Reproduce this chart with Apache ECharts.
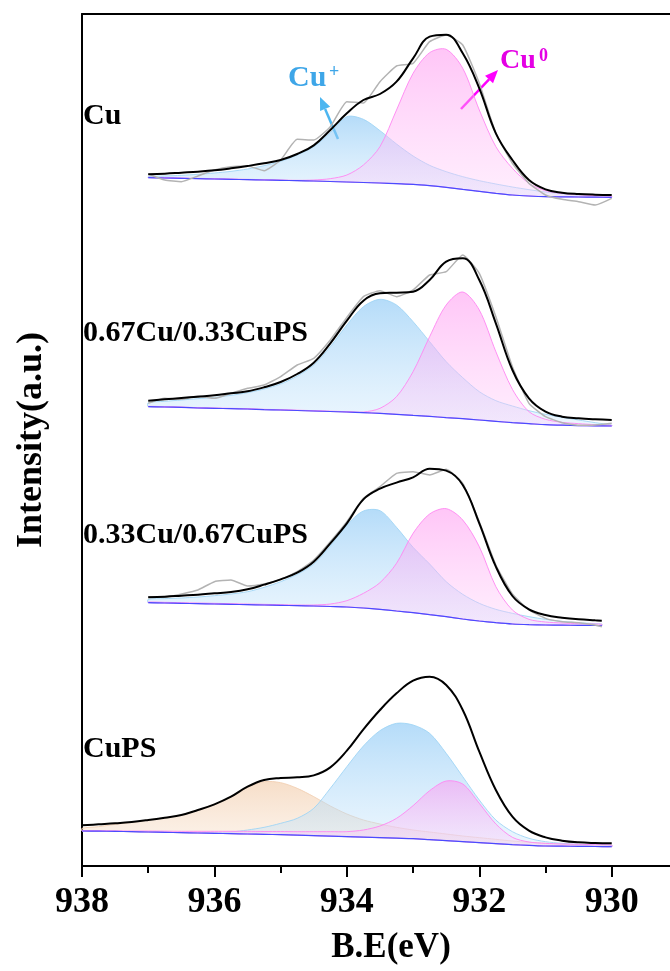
<!DOCTYPE html>
<html><head><meta charset="utf-8">
<script src="https://cdn.jsdelivr.net/npm/echarts@6/dist/echarts.min.js"></script>
<style>html,body{margin:0;padding:0;background:#fff}#c{width:670px;height:971px}</style>
</head><body><div id="c"></div>
<script>
// ---------- data (binding energy in eV, intensity in a.u.) ----------
const TICKS_MAJOR = [938, 936, 934, 932, 930];
const TICKS_MINOR = [937, 935, 933, 931];
const OFFSETS = {cu: 1948, s67: 1258, s33: 628, ps: 28};

// Cu
const E_CU = [937,936.75,936.5,936.25,936,935.75,935.5,935.25,935,934.75,934.5,934.25,934,933.75,933.5,933.25,933,932.75,932.5,932.25,932,931.75,931.5,931.25,931,930.75,930.5,930.25,930];
const CU_ENV = [127,129,132,135,139,145,152,160,170,188,214,260,310,350,368,405,475,540,546,490,385,250,170,110,82,72,68,66,65];
const CU_BG  = [117,116,115,114,113,112,111,110,109,108,107,105.5,104,102.5,101,99,97,93,88,82,76,70,65,62,60,59.5,59,58.5,58];
const CU_P   = [120,122,124,127,131,136,143,153,166,185,210,252,300,292,258,218,182,154,135,120,108,98,89,81,74,69,65,62,60];
const CU_0   = [118,117,116,115,114,113,112,111,110,109,110,114,125,155,210,320,430,492,502,445,320,210,145,100,78,70,66,63,61];
const CU_RAW = [128,110,105,122,140,150,152,138,170,232,230,270,345,341,405,452,460,525,545,515,400,250,160,100,65,52,45,35,55];

// 0.67Cu/0.33CuPS
const E_67 = [937,936.75,936.5,936.25,936,935.75,935.5,935.25,935,934.75,934.5,934.25,934,933.75,933.5,933.25,933,932.75,932.5,932.25,932,931.75,931.5,931.25,931,930.75,930.5,930.25,930];
const S67_ENV = [138,142,146,150,154,160,166,178,194,218,252,310,378,438,460,462,465,500,555,565,500,370,230,145,105,90,85,82,80];
const S67_BG  = [120,119,118,116,115,114,113,111,110,108.5,107,105.5,104,102,100,97,94,91,87,84,80,76,72,69,66,64.5,63,62.5,62];
const S67_P   = [132,136,140,144,148,154,162,173,188,212,245,300,365,420,442,425,375,315,255,207,165,138,122,108,97,88,80,72,65];
const S67_0   = [121,120,119,117,116,115,114,112,111,109.5,108,106.5,105,104,115,150,225,330,425,464,410,285,172,105,82,73,69,66,64];
const S67_RAW = [130,145,142,152,145,160,175,185,210,245,265,320,388,450,468,450,470,515,525,575,520,390,240,130,90,72,64,65,70];

// 0.33Cu/0.67CuPS
const E_33 = [937,936.75,936.5,936.25,936,935.75,935.5,935.25,935,934.75,934.5,934.25,934,933.75,933.5,933.25,933,932.75,932.5,932.25,932,931.75,931.5,931.25,931,930.75,930.5,930.25,930.15];
const S33_ENV = [178,180,183,186,190,194,202,216,232,252,285,340,400,472,504,522,538,564,558,515,400,270,182,142,125,117,112,109,108];
const S33_BG  = [162,161,160,159,158,157,156,155,154,153,152,150.5,149,146,142,137,132,126,120,113,107,102,98,96,95,94.5,94,93.5,93];
const S33_P   = [172,174,176,179,183,188,195,208,225,247,278,332,395,437,438,388,328,278,225,187,160,142,130,120,112,106,102,99,98];
const S33_0   = [164,163,162,161,160,159,158,157,156,155,155,158,168,190,222,280,370,428,444,410,330,210,140,112,104,101,99,98,97];
const S33_RAW = [180,178,188,200,225,230,212,218,232,255,290,345,405,475,510,550,555,545,562,520,405,275,188,140,115,105,102,95,90];

// CuPS
const E_PS = [938,937.75,937.5,937.25,937,936.75,936.5,936.25,936,935.75,935.5,935.25,935,934.75,934.5,934.25,934,933.75,933.5,933.25,933,932.75,932.5,932.25,932,931.75,931.5,931.25,931,930.75,930.5,930.25,930];
const PS_ENV = [94,97,100,104,110,117,125,140,157,180,210,230,236,238,244,268,318,382,440,490,528,540,515,440,315,200,120,78,58,48,43,41,40];
const PS_BG  = [77,76.5,76,75,74,73,72,71,70,69,68,67,66,64.5,63,61.5,60,58.5,57,55.5,54,51,48,45,42,39,36,34,32,31.5,31,30.5,30];
const PS_SAT = [85,90,97,103,110,117,125,140,157,180,208,225,222,205,180,152,128,110,98,88,80,74,68,62,57,52,47,43,40,38,36,35,34];
const PS_P   = [78,77,76,75.5,75,74,73,72.5,72,74,80,88,100,115,145,205,270,332,378,400,395,370,310,240,170,110,75,55,45,40,37,36,35];
const PS_0   = [78,78,77.5,77,77,76.5,76,76,76,76,76,75.5,75.5,75,75,75,75,80,92,115,153,198,227,218,160,98,58,44,40,38,37,36,35];

// ---------- styles ----------
const FONT = '"Liberation Serif","Times New Roman",serif';
const BLUE = {line:'#9fd5f5', top:'rgba(135,198,245,0.62)', bot:'rgba(200,230,252,0.35)'};
const PINK = {line:'#ff86f2', top:'rgba(255,150,240,0.55)', bot:'rgba(255,205,250,0.35)'};
const ORNG = {line:'#f2cfb2', top:'rgba(240,198,160,0.58)', bot:'rgba(248,226,206,0.40)'};

const pairs = (xs, ys, off) => xs.map((x, i) => [x, ys[i] + off]);

const series = [];
function bandSeries(xs, comp, bg, off, st, z) {
  const rows = xs.map((x, i) => [x, comp[i] + off, bg[i] + off]);
  return {
    type:'custom', data:rows, encode:{x:0, y:[1, 2]}, z:z, silent:true,
    renderItem: function (params, api) {
      if (params.dataIndex !== 0) return null;
      const top = rows.map(r => api.coord([r[0], r[1]]));
      const bot = rows.map(r => api.coord([r[0], r[2]])).reverse();
      return {type:'polygon', shape:{points:top.concat(bot), smooth:0.3},
        style:{fill:{type:'linear', x:0, y:0, x2:0, y2:1,
          colorStops:[{offset:0, color:st.top}, {offset:1, color:st.bot}]},
          stroke:st.line, lineWidth:0.9}};
    }
  };
}
function addSpectrum(xs, off, bg, comps, env, raw) {
  comps.forEach((c, j) => series.push(bandSeries(xs, c.v, bg, off, c.s, 1 + j * 0.1)));
  series.push({type:'line', data:pairs(xs, bg, off), symbol:'none', smooth:0.3,
    lineStyle:{color:'#4b4bff', width:1.2}, z:3});
  if (raw) series.push({type:'line', data:pairs(xs, raw, off), symbol:'none', smooth:0.15,
    lineStyle:{color:'#b3b3b3', width:1.5}, z:4});
  series.push({type:'line', data:pairs(xs, env, off), symbol:'none', smooth:0.4,
    lineStyle:{color:'#000', width:2}, z:5});
}
addSpectrum(E_CU, OFFSETS.cu, CU_BG, [{v:CU_P, s:BLUE}, {v:CU_0, s:PINK}], CU_ENV, CU_RAW);
addSpectrum(E_67, OFFSETS.s67, S67_BG, [{v:S67_P, s:BLUE}, {v:S67_0, s:PINK}], S67_ENV, S67_RAW);
addSpectrum(E_33, OFFSETS.s33, S33_BG, [{v:S33_P, s:BLUE}, {v:S33_0, s:PINK}], S33_ENV, S33_RAW);
addSpectrum(E_PS, OFFSETS.ps, PS_BG, [{v:PS_SAT, s:ORNG}, {v:PS_P, s:BLUE}, {v:PS_0, s:PINK}], PS_ENV, null);

function arrow(x1, y1, x2, y2, color) {
  const a = Math.atan2(y2 - y1, x2 - x1), L = 13, W = 5.5;
  const bx = x2 - L * Math.cos(a), by = y2 - L * Math.sin(a);
  const px = -Math.sin(a) * W, py = Math.cos(a) * W;
  return {type:'group', children:[
    {type:'line', shape:{x1:x1, y1:y1, x2:bx, y2:by}, style:{stroke:color, lineWidth:2.5}},
    {type:'polygon', shape:{points:[[x2, y2], [bx + px, by + py], [bx - px, by - py]]}, style:{fill:color}}
  ]};
}
const label = (t, x, y, size, color) => ({type:'text', x:x, y:y, z:10,
  style:{text:t, font:'bold ' + size + 'px ' + FONT, fill:color || '#000', verticalAlign:'middle', align:'left'}});

const X_MIN = 929.12, X_MAX = 938;
const chart = echarts.init(document.getElementById('c'), null, {renderer:'canvas'});
chart.setOption({
  animation:false,
  backgroundColor:'#fff',
  grid:{left:82, top:14, right:0, bottom:105, containLabel:false},
  xAxis:[
    {type:'value', min:X_MIN, max:X_MAX, inverse:true, position:'bottom',
     name:'B.E(eV)', nameLocation:'middle', nameGap:64,
     nameTextStyle:{fontSize:35, fontWeight:'bold', fontFamily:FONT, color:'#000', padding:[0,0,0,30]},
     axisLine:{show:true, lineStyle:{color:'#000', width:2}},
     axisTick:{show:true, inside:false, length:11, lineStyle:{color:'#000', width:2}, customValues:TICKS_MAJOR},
     axisLabel:{show:true, margin:19, fontSize:36, fontWeight:'bold', fontFamily:FONT, color:'#000', customValues:TICKS_MAJOR},
     splitLine:{show:false}},
    {type:'value', min:X_MIN, max:X_MAX, inverse:true, position:'bottom',
     axisLine:{show:false},
     axisTick:{show:true, inside:false, length:7, lineStyle:{color:'#000', width:2}, customValues:TICKS_MINOR},
     axisLabel:{show:false}, splitLine:{show:false}},
    {type:'value', min:X_MIN, max:X_MAX, inverse:true, position:'top',
     axisLine:{show:true, lineStyle:{color:'#000', width:2}},
     axisTick:{show:false}, axisLabel:{show:false}, splitLine:{show:false}}
  ],
  yAxis:{type:'value', min:0, max:2556,
    name:'Intensity(a.u.)', nameLocation:'middle', nameGap:32,
    nameTextStyle:{fontSize:36, fontWeight:'bold', fontFamily:FONT, color:'#000'},
    axisLine:{show:true, lineStyle:{color:'#000', width:2}},
    axisTick:{show:false}, axisLabel:{show:false}, splitLine:{show:false}},
  series:series,
  graphic:[
    label('Cu', 83, 116, 30),
    label('0.67Cu/0.33CuPS', 83, 333, 30),
    label('0.33Cu/0.67CuPS', 83, 535, 30),
    label('CuPS', 83, 749, 30),
    label('Cu', 288, 78, 30, '#3ea6e8'),
    label('+', 329, 72, 18, '#3ea6e8'),
    label('Cu', 500, 61, 28, '#e400e4'),
    label('0', 539, 56, 18, '#e400e4'),
    arrow(338, 139, 320, 97, '#4db6f0'),
    arrow(461, 109, 498, 70, '#ff00ff')
  ]
});
</script></body></html>
